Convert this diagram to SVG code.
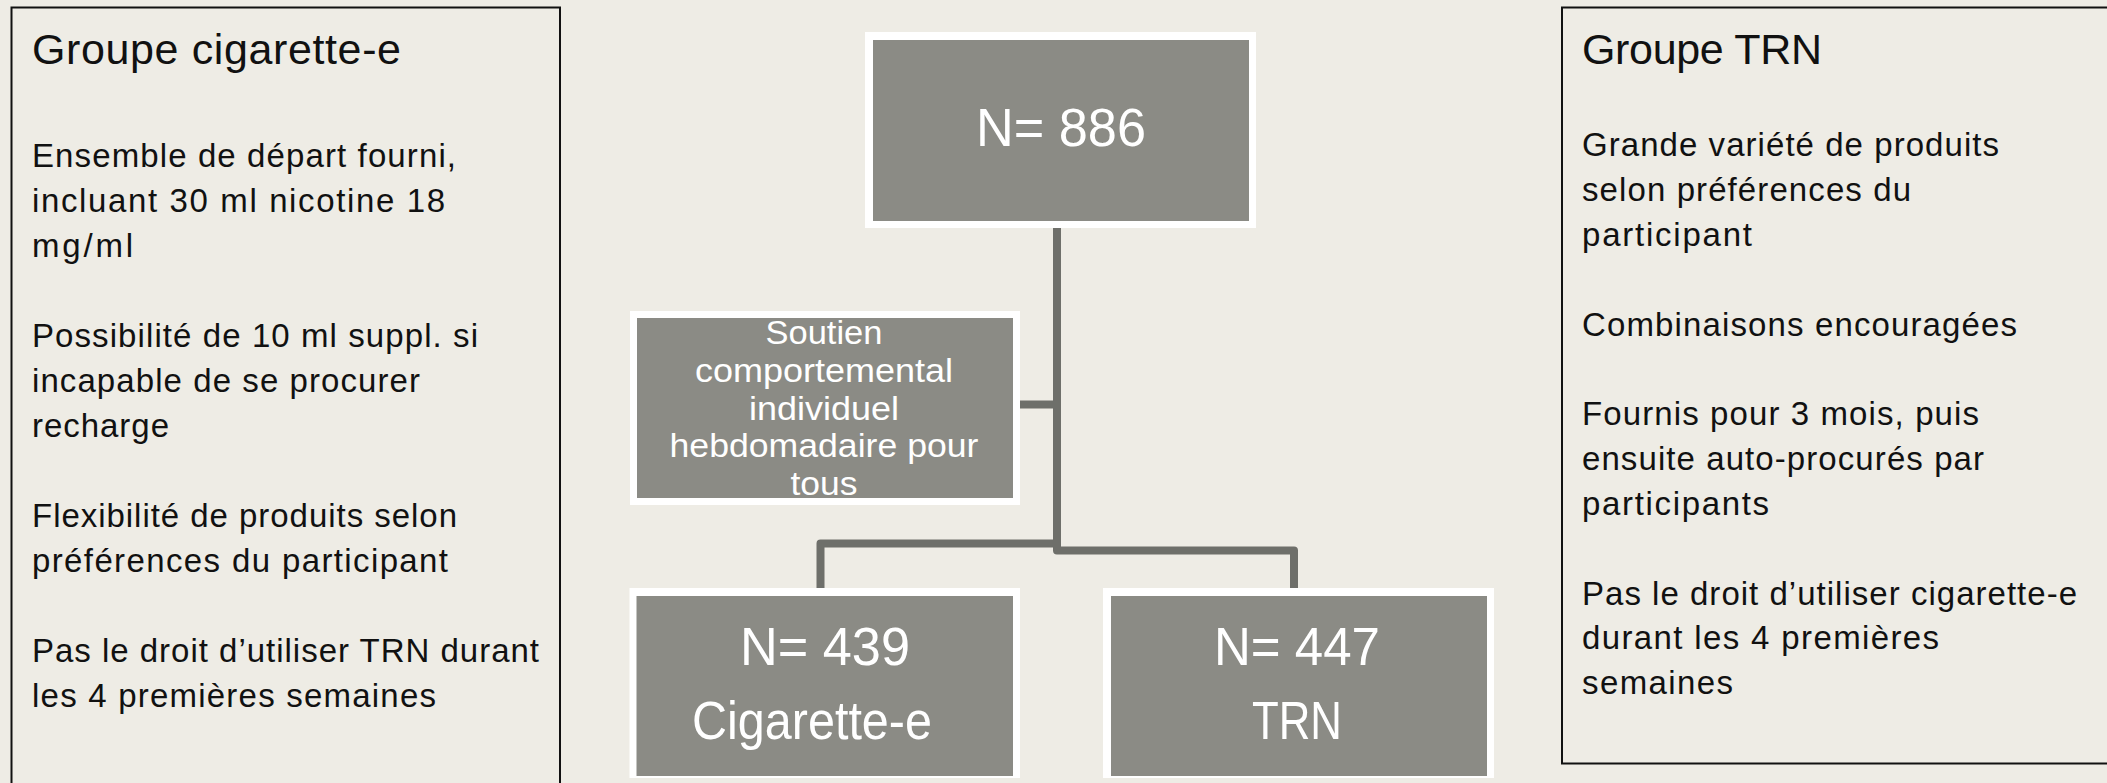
<svg xmlns="http://www.w3.org/2000/svg" width="2107" height="783" viewBox="0 0 2107 783">
<style>
.bg{fill:#eeece5}
.panel{fill:none;stroke:#111;stroke-width:2}
.head{font-family:"Liberation Sans",Arial,sans-serif;font-size:43px;fill:#111}
.body{font-family:"Liberation Sans",Arial,sans-serif;font-size:33px;fill:#111}
.outer{fill:#ffffff}
.inner{fill:#8b8b85}
.big{font-family:"Liberation Sans Narrow","Liberation Sans",Arial,sans-serif;font-size:53px;fill:#fff;text-anchor:middle}
.mid{font-family:"Liberation Sans Narrow","Liberation Sans",Arial,sans-serif;font-size:33px;fill:#fff;text-anchor:middle}
.conn{fill:none;stroke:#6e6f6a;stroke-width:8;stroke-linejoin:round}
</style>
<rect class="bg" x="0" y="0" width="2107" height="783"/>

<g id="connectors">
<path class="conn" d="M1057,228 V543.5 H820.5 V589"/>
<path class="conn" d="M1057,228 V550.5 H1294 V589"/>
<path class="conn" d="M1019,404.5 H1057"/>
</g>

<g id="panel-cigarette">
<rect class="panel" x="11.5" y="7.5" width="548.5" height="790"/>
<text class="head" x="32" y="64" textLength="369">Groupe cigarette-e</text>
<text class="body" x="32" y="167" textLength="424">Ensemble de départ fourni,</text>
<text class="body" x="32" y="212" textLength="413">incluant 30 ml nicotine 18</text>
<text class="body" x="32" y="257" textLength="101">mg/ml</text>
<text class="body" x="32" y="347" textLength="446">Possibilité de 10 ml suppl. si</text>
<text class="body" x="32" y="392" textLength="388">incapable de se procurer</text>
<text class="body" x="32" y="437" textLength="137">recharge</text>
<text class="body" x="32" y="527" textLength="425">Flexibilité de produits selon</text>
<text class="body" x="32" y="572" textLength="416">préférences du participant</text>
<text class="body" x="32" y="662" textLength="507">Pas le droit d’utiliser TRN durant</text>
<text class="body" x="32" y="707" textLength="404">les 4 premières semaines</text>
</g>

<g id="panel-trn">
<rect class="panel" x="1562" y="7.5" width="560" height="756"/>
<text class="head" x="1582" y="64" textLength="240">Groupe TRN</text>
<text class="body" x="1582" y="156" textLength="417">Grande variété de produits</text>
<text class="body" x="1582" y="201" textLength="329">selon préférences du</text>
<text class="body" x="1582" y="246" textLength="170">participant</text>
<text class="body" x="1582" y="335.5" textLength="435">Combinaisons encouragées</text>
<text class="body" x="1582" y="425" textLength="397">Fournis pour 3 mois, puis</text>
<text class="body" x="1582" y="470" textLength="402">ensuite auto-procurés par</text>
<text class="body" x="1582" y="515" textLength="187">participants</text>
<text class="body" x="1582" y="604.5" textLength="495">Pas le droit d’utiliser cigarette-e</text>
<text class="body" x="1582" y="649" textLength="357">durant les 4 premières</text>
<text class="body" x="1582" y="694" textLength="151">semaines</text>
</g>

<g id="node-total">
<rect class="outer" x="865" y="32" width="391" height="196"/>
<rect class="inner" x="873" y="40" width="376" height="181"/>
<text class="big" x="1061" y="146" textLength="170" lengthAdjust="spacingAndGlyphs">N= 886</text>
</g>

<g id="node-soutien">
<rect class="outer" x="630" y="311" width="390" height="194"/>
<rect class="inner" x="637" y="318" width="376" height="180"/>
<text class="mid" x="824" y="344" textLength="117" lengthAdjust="spacingAndGlyphs">Soutien</text>
<text class="mid" x="824" y="382" textLength="258" lengthAdjust="spacingAndGlyphs">comportemental</text>
<text class="mid" x="824" y="419.5" textLength="150" lengthAdjust="spacingAndGlyphs">individuel</text>
<text class="mid" x="824" y="457" textLength="309" lengthAdjust="spacingAndGlyphs">hebdomadaire pour</text>
<text class="mid" x="824" y="494.5" textLength="67" lengthAdjust="spacingAndGlyphs">tous</text>
</g>

<g id="node-cig">
<rect class="outer" x="629.5" y="588" width="390.5" height="190"/>
<rect class="inner" x="636.5" y="596" width="376.5" height="180"/>
<text class="big" x="825" y="665" textLength="170" lengthAdjust="spacingAndGlyphs">N= 439</text>
<text class="big" x="812" y="739" textLength="240" lengthAdjust="spacingAndGlyphs">Cigarette-e</text>
</g>

<g id="node-trn">
<rect class="outer" x="1103" y="588" width="391" height="190"/>
<rect class="inner" x="1111" y="596" width="376" height="180"/>
<text class="big" x="1297" y="665" textLength="166" lengthAdjust="spacingAndGlyphs">N= 447</text>
<text class="big" x="1297" y="739" textLength="90" lengthAdjust="spacingAndGlyphs">TRN</text>
</g>
</svg>
